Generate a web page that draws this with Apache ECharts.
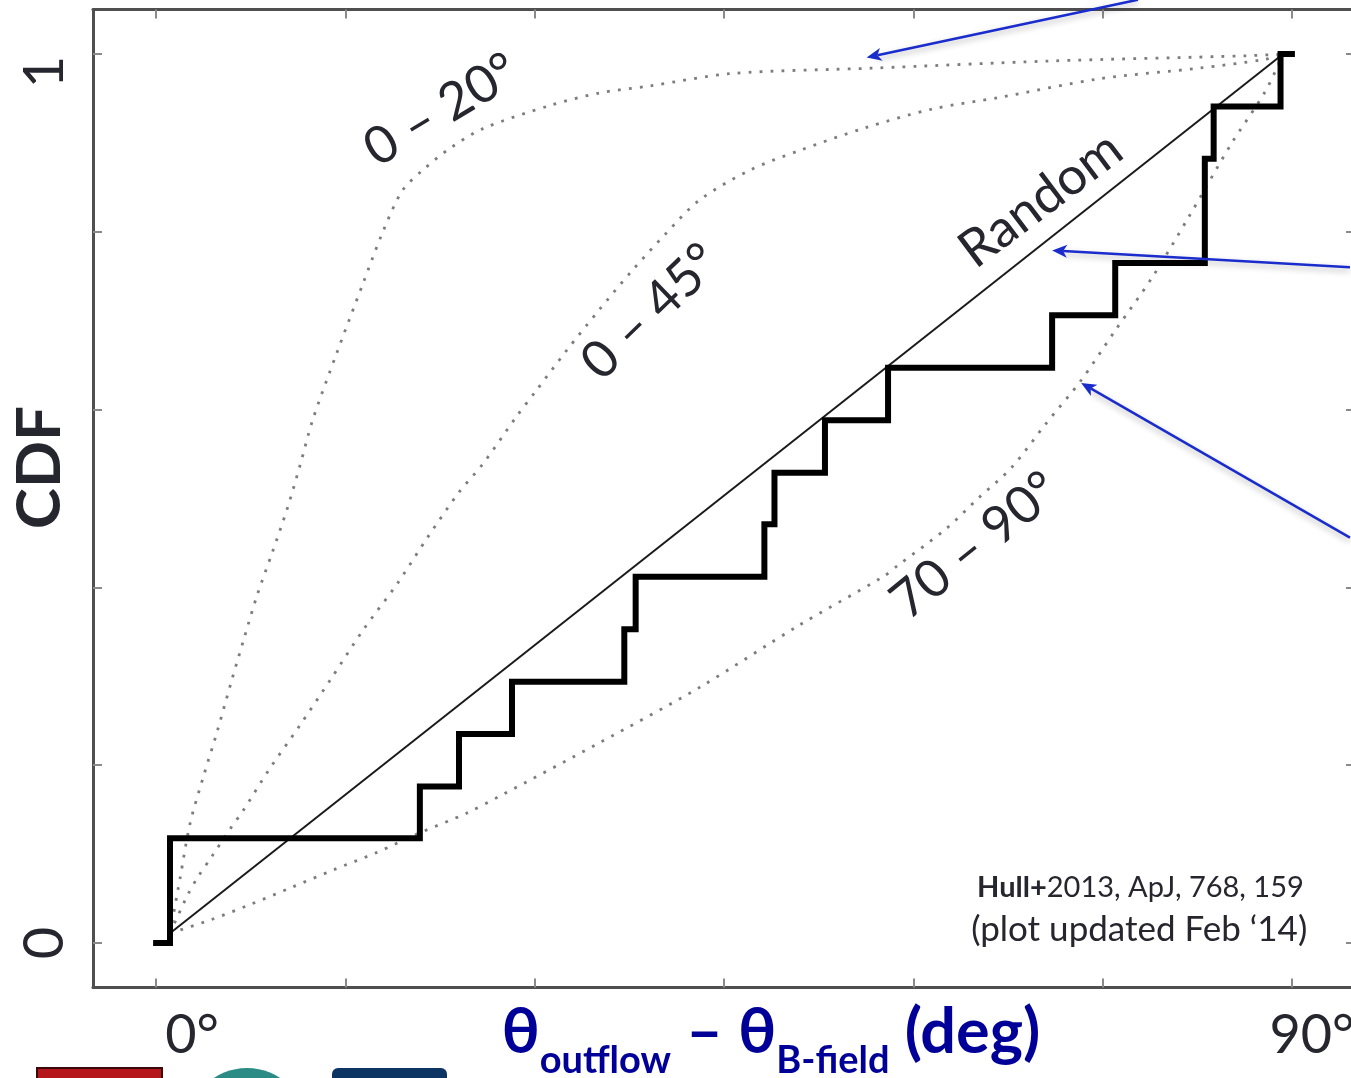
<!DOCTYPE html>
<html><head><meta charset="utf-8">
<script src="https://cdn.jsdelivr.net/npm/echarts@6/dist/echarts.min.js"></script>
<style>html,body{margin:0;padding:0;background:#fff}#c{width:1351px;height:1078px}</style>
</head><body><div id="c"></div>
<script>
// ---- axis ticks / labels ----
const xTicks = [0, 15, 30, 45, 60, 75, 90];
const yTicks = [0, 0.2, 0.4, 0.6, 0.8, 1];
const xLabelValues = [0, 90];
const yLabelValues = [0, 1];

// ---- observed CDF (step) ----
const stepX = [0, 1.1, 20.9, 24.0, 28.2, 37.1, 38.0, 48.2, 49.0, 53.0, 58.0, 71.0, 76.0, 83.1, 83.8, 89.1, 90];
const stepY = [0, 0.118, 0.176, 0.235, 0.294, 0.353, 0.412, 0.471, 0.529, 0.588, 0.647, 0.706, 0.765, 0.882, 0.941, 1.0, 1.0];

// ---- random line ----
const randomX = [1.1, 89.3];
const randomY = [0.011, 1.0];

// ---- model curves (dotted) ----
const c20X = [1.1, 1.9, 2.7, 3.7, 4.8, 6.0, 7.0, 8.0, 9.2, 10.4, 11.4, 12.4, 14.3, 16.4, 18.0, 19.5, 21.1, 23.3, 25.9, 31.2, 35.1, 39.1, 45.6, 56.7, 70.7, 86.5, 89.3];
const c20Y = [0.011, 0.073, 0.135, 0.185, 0.236, 0.296, 0.344, 0.391, 0.439, 0.489, 0.537, 0.588, 0.663, 0.742, 0.801, 0.846, 0.869, 0.894, 0.916, 0.942, 0.956, 0.964, 0.978, 0.984, 0.992, 0.998, 1.0];

const c45X = [1.1, 2.5, 3.3, 4.4, 5.9, 6.9, 8.9, 11.4, 13.9, 16.4, 19.1, 21.5, 24.0, 25.9, 28.6, 30.1, 32.5, 35.1, 37.7, 40.4, 43.0, 47.0, 50.9, 56.2, 61.5, 66.8, 74.7, 82.6, 87.9, 89.3];
const c45Y = [0.011, 0.054, 0.074, 0.097, 0.129, 0.149, 0.194, 0.245, 0.298, 0.352, 0.404, 0.456, 0.507, 0.539, 0.593, 0.621, 0.666, 0.712, 0.756, 0.798, 0.835, 0.869, 0.891, 0.917, 0.938, 0.951, 0.972, 0.984, 0.994, 1.0];

const c7090X = [1.1, 4.3, 7.4, 10.8, 14.0, 17.5, 20.9, 24.6, 27.2, 35.1, 43.0, 50.9, 57.6, 58.8, 62.6, 65.2, 67.8, 70.5, 73.3, 76.0, 78.9, 81.8, 85.2, 87.9, 89.3];
const c7090Y = [0.011, 0.026, 0.043, 0.063, 0.082, 0.102, 0.124, 0.146, 0.165, 0.225, 0.287, 0.357, 0.412, 0.425, 0.466, 0.501, 0.535, 0.584, 0.633, 0.689, 0.748, 0.816, 0.899, 0.958, 1.0];

// ---- in-plot annotations ----
const curveLabelText = ['0 – 20°', '0 – 45°', 'Random', '70 – 90°'];
const curveLabelX = [22.6, 39.2, 70.1, 64.9];
const curveLabelY = [0.937, 0.710, 0.836, 0.447];
const curveLabelAngle = [31, 44, 37, 39];

const refLines = ['{b|Hull+}{n|2013, ApJ, 768, 159}', '(plot updated Feb ‘14)'];
const refX = [78.0, 77.9];
const refY = [0.062, 0.0146];

// ---- blue pointer arrows (tail -> head) ----
const arrowTailX = [77.8, 94.6, 94.6];
const arrowTailY = [1.061, 0.760, 0.456];
const arrowHeadX = [56.3, 71.0, 73.3];
const arrowHeadY = [0.996, 0.779, 0.630];

const FONT = 'Lato, "Open Sans", "DejaVu Sans", sans-serif';
const TXT = '#26262f';
const zip = (xs, ys) => xs.map((x, i) => [x, ys[i]]);

const chart = echarts.init(document.getElementById('c'));

const dotted = { color: '#7d7d7d', width: 2.8, type: [2.8, 8.2] };
const axisLineStyle = { color: '#4f4f4f', width: 3 };
const tickStyle = { color: '#8a8a8a', width: 2 };

const option = {
  animation: false,
  backgroundColor: '#ffffff',
  grid: { left: 93, top: 9.5, width: 1262, height: 978, containLabel: false, outerBoundsMode: 'none' },
  xAxis: [{
    type: 'value', min: -5, max: 95, position: 'bottom',
    axisLine: { show: true, onZero: false, lineStyle: axisLineStyle },
    axisTick: { show: true, inside: true, length: 9, customValues: xTicks, lineStyle: tickStyle },
    axisLabel: {
      customValues: xLabelValues, margin: 21,
      formatter: v => v === 0 ? '{a|' + v + '°}' : '{b|' + v + '°}',
      rich: {
        a: { fontSize: 54, fontFamily: FONT, color: TXT, padding: [0, 0, 0, 72] },
        b: { fontSize: 54, fontFamily: FONT, color: TXT, padding: [0, 0, 0, 40] }
      }
    },
    splitLine: { show: false },
    name: '{t|θ}{s|outflow}{t| – θ}{s|B-field}{t| (deg)}',
    nameLocation: 'middle', nameGap: 14, nameMoveOverlap: false,
    nameTextStyle: {
      padding: [0, 0, 0, 94],
      rich: {
        t: { fontSize: 63, fontWeight: 'bold', fontFamily: FONT, color: '#000099', lineHeight: 72, verticalAlign: 'top' },
        s: { fontSize: 38, fontWeight: 'bold', fontFamily: FONT, color: '#000099', lineHeight: 44, verticalAlign: 'top', padding: [40, 0, 0, 0] }
      }
    }
  }, {
    type: 'value', min: -5, max: 95, position: 'top',
    axisLine: { show: true, onZero: false, lineStyle: axisLineStyle },
    axisTick: { show: true, inside: true, length: 9, customValues: xTicks, lineStyle: tickStyle },
    axisLabel: { show: false }, splitLine: { show: false }
  }],
  yAxis: [{
    type: 'value', min: -0.05, max: 1.05, position: 'left',
    axisLine: { show: true, onZero: false, lineStyle: axisLineStyle },
    axisTick: { show: true, inside: true, length: 9, customValues: yTicks, lineStyle: tickStyle },
    axisLabel: {
      customValues: yLabelValues, rotate: 90, margin: 20,
      formatter: v => v === 1 ? '{o|' + v + '}' : '{z|' + v + '}',
      rich: {
        z: { fontSize: 56, fontFamily: FONT, color: TXT },
        o: { fontSize: 56, fontFamily: FONT, color: TXT, padding: [0, 36, 0, 0] }
      }
    },
    splitLine: { show: false },
    name: 'CDF', nameLocation: 'middle', nameGap: 22, nameMoveOverlap: false,
    nameTextStyle: { fontSize: 62, fontWeight: 'bold', fontFamily: FONT, color: TXT, padding: [0, 0, 0, 62] }
  }, {
    type: 'value', min: -0.05, max: 1.05, position: 'right',
    axisLine: { show: true, onZero: false, lineStyle: axisLineStyle },
    axisTick: { show: true, inside: true, length: 9, customValues: yTicks, lineStyle: tickStyle },
    axisLabel: { show: false }, splitLine: { show: false }
  }],
  series: [
    { name: '0 – 20°', type: 'line', data: zip(c20X, c20Y), showSymbol: false, smooth: 0.3, silent: true, lineStyle: dotted, z: 2 },
    { name: '0 – 45°', type: 'line', data: zip(c45X, c45Y), showSymbol: false, smooth: 0.3, silent: true, lineStyle: dotted, z: 2 },
    { name: '70 – 90°', type: 'line', data: zip(c7090X, c7090Y), showSymbol: false, smooth: 0.3, silent: true, lineStyle: dotted, z: 2 },
    { name: 'Random', type: 'line', data: zip(randomX, randomY), showSymbol: false, silent: true, lineStyle: { color: '#1a1a1a', width: 2 }, z: 3 },
    { name: 'Observed', type: 'line', step: 'end', data: zip(stepX, stepY), showSymbol: false, silent: true, lineStyle: { color: '#000', width: 6, join: 'miter', cap: 'square' }, z: 4 },
    {
      name: 'labels', type: 'custom', coordinateSystem: 'cartesian2d', silent: true, clip: false, z: 5,
      data: curveLabelX.map((x, i) => [x, curveLabelY[i], curveLabelAngle[i]]),
      encode: { x: 0, y: 1 },
      renderItem: (params, api) => {
        const p = api.coord([api.value(0), api.value(1)]);
        return { type: 'text', x: p[0], y: p[1], rotation: api.value(2) * Math.PI / 180,
          style: { text: curveLabelText[params.dataIndex], fontSize: 52, fontFamily: FONT, fill: TXT, align: 'center', verticalAlign: 'middle' } };
      }
    },
    {
      name: 'reference', type: 'custom', coordinateSystem: 'cartesian2d', silent: true, clip: false, z: 5,
      data: refX.map((x, i) => [x, refY[i]]),
      encode: { x: 0, y: 1 },
      renderItem: (params, api) => {
        const p = api.coord([api.value(0), api.value(1)]);
        return { type: 'text', x: p[0], y: p[1],
          style: { text: refLines[params.dataIndex], fontSize: 35, fontFamily: FONT, fill: TXT, align: 'center', verticalAlign: 'middle',
            rich: { b: { fontSize: 29, fontWeight: 'bold', fontFamily: FONT, fill: TXT }, n: { fontSize: 29, fontFamily: FONT, fill: TXT } } } };
      }
    },
    {
      name: 'arrows', type: 'custom', coordinateSystem: 'cartesian2d', silent: true, clip: false, z: 6,
      data: arrowTailX.map((x, i) => [x, arrowTailY[i], arrowHeadX[i], arrowHeadY[i]]),
      encode: { x: [0, 2], y: [1, 3] },
      renderItem: (params, api) => {
        const t = api.coord([api.value(0), api.value(1)]);
        const h = api.coord([api.value(2), api.value(3)]);
        const dx = h[0] - t[0], dy = h[1] - t[1], L = Math.hypot(dx, dy);
        const ux = dx / L, uy = dy / L, px = -uy, py = ux;
        const hl = 15, hw = 6.5, notch = 4;
        const base = [h[0] - ux * hl, h[1] - uy * hl];
        const inner = [h[0] - ux * (hl - notch), h[1] - uy * (hl - notch)];
        const col = '#1a2ccc';
        return { type: 'group', children: [
          { type: 'line', shape: { x1: t[0], y1: t[1], x2: inner[0], y2: inner[1] },
            style: { stroke: col, lineWidth: 2.5, shadowBlur: 6, shadowColor: 'rgba(0,0,0,0.3)', shadowOffsetY: 3 } },
          { type: 'polygon', shape: { points: [h, [base[0] + px * hw, base[1] + py * hw], inner, [base[0] - px * hw, base[1] - py * hw]] },
            style: { fill: col } }
        ] };
      }
    }
  ],
  graphic: [
    { type: 'rect', shape: { x: 37, y: 1068, width: 125, height: 14 }, style: { fill: '#b5161b', stroke: '#3a0a0a', lineWidth: 2 }, silent: true },
    { type: 'circle', shape: { cx: 247, cy: 1128, r: 60 }, style: { fill: '#2b8c86' }, silent: true },
    { type: 'rect', shape: { x: 332, y: 1068, width: 115, height: 14, r: [6, 6, 0, 0] }, style: { fill: '#0d3563' }, silent: true }
  ]
};
chart.setOption(option);
</script>
</body></html>
